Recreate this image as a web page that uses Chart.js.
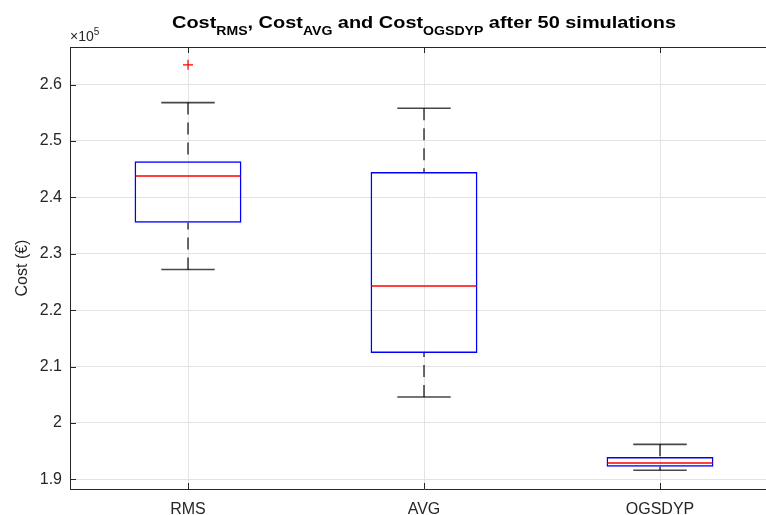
<!DOCTYPE html>
<html>
<head>
<meta charset="utf-8">
<script src="https://cdn.jsdelivr.net/npm/chart.js@4.4.1/dist/chart.umd.min.js"></script>
<style>
    html, body { margin: 0; padding: 0; background: #fff; overflow: hidden; }
    #wrap { width: 800px; height: 515px; }
</style>
</head>
<body>
<div id="wrap"><canvas id="costChart" width="800" height="515"></canvas></div>
<script>
// cost per strategy, in euros
const categories = ["RMS", "AVG", "OGSDYP"];
const upperWhisker = [256800, 255800, 196200];
const q3 = [246400, 244500, 193960];
const medians = [243800, 224300, 192900];
const q1 = [235500, 212400, 192240];
const lowerWhisker = [227200, 204600, 191600];
const outliers = [263500, null, null];

const yTicks = [190000, 200000, 210000, 220000, 230000, 240000, 250000, 260000];

const AXIS_COLOR = "#262626";
const GRID_COLOR = "#e3e3e3";
const FONT = "'Liberation Sans', Arial, sans-serif";

const titleParts = [
    { text: "Cost", sub: false },
    { text: "RMS", sub: true },
    { text: ", Cost", sub: false },
    { text: "AVG", sub: true },
    { text: " and Cost", sub: false },
    { text: "OGSDYP", sub: true },
    { text: " after 50 simulations", sub: false },
];

// whiskers, caps and median lines on top of the box bars
const boxExtras = {
    id: "boxExtras",
    afterDatasetsDraw(chart) {
        const ctx = chart.ctx;
        const x = chart.scales.x;
        const y = chart.scales.y;
        const boxes = chart.getDatasetMeta(0).data;
        ctx.save();
        categories.forEach((cat, i) => {
            const cx = x.getPixelForValue(i);
            const half = boxes[i].width / 2;
            const capHalf = half / 2;
            const up = y.getPixelForValue(upperWhisker[i]);
            const lo = y.getPixelForValue(lowerWhisker[i]);

            ctx.strokeStyle = "rgba(0,0,0,0.72)";
            ctx.lineWidth = 1.6;
            ctx.setLineDash([12, 8]);
            ctx.beginPath();
            ctx.moveTo(cx, up);
            ctx.lineTo(cx, y.getPixelForValue(q3[i]));
            ctx.moveTo(cx, lo);
            ctx.lineTo(cx, y.getPixelForValue(q1[i]));
            ctx.stroke();

            ctx.setLineDash([]);
            ctx.beginPath();
            ctx.moveTo(cx - capHalf, up);
            ctx.lineTo(cx + capHalf, up);
            ctx.moveTo(cx - capHalf, lo);
            ctx.lineTo(cx + capHalf, lo);
            ctx.stroke();

            ctx.strokeStyle = "#ff0000";
            ctx.lineWidth = 1.5;
            const my = y.getPixelForValue(medians[i]);
            ctx.beginPath();
            ctx.moveTo(cx - half + 1, my);
            ctx.lineTo(cx + half - 1, my);
            ctx.stroke();
        });
        ctx.restore();
    },
};

// top border, inward tick marks, title and exponent label
const frame = {
    id: "frame",
    afterDraw(chart) {
        const ctx = chart.ctx;
        const area = chart.chartArea;
        const x = chart.scales.x;
        const y = chart.scales.y;
        ctx.save();
        ctx.strokeStyle = AXIS_COLOR;
        ctx.lineWidth = 1;
        ctx.beginPath();
        ctx.moveTo(area.left, area.top + 0.5);
        ctx.lineTo(area.right, area.top + 0.5);
        yTicks.forEach((v) => {
            const py = Math.round(y.getPixelForValue(v)) + 0.5;
            ctx.moveTo(area.left, py);
            ctx.lineTo(area.left + 6, py);
        });
        categories.forEach((c, i) => {
            const px = Math.round(x.getPixelForValue(i)) + 0.5;
            ctx.moveTo(px, area.bottom);
            ctx.lineTo(px, area.bottom - 6);
            ctx.moveTo(px, area.top);
            ctx.lineTo(px, area.top + 6);
        });
        ctx.stroke();

        // title with subscripts, stretched to the plot's title width
        const mainFont = "bold 17px " + FONT;
        const subFont = "bold 12px " + FONT;
        let total = 0;
        titleParts.forEach((p) => {
            ctx.font = p.sub ? subFont : mainFont;
            p.w = ctx.measureText(p.text).width;
            total += p.w;
        });
        const s = 504 / total;
        const cx = (area.left + area.right) / 2;
        ctx.translate(cx - (total * s) / 2, 0);
        ctx.scale(s, 1);
        ctx.fillStyle = "#000";
        ctx.textBaseline = "alphabetic";
        ctx.textAlign = "left";
        let tx = 0;
        titleParts.forEach((p) => {
            ctx.font = p.sub ? subFont : mainFont;
            ctx.fillText(p.text, tx, p.sub ? 35 : 28);
            tx += p.w;
        });
        ctx.setTransform(1, 0, 0, 1, 0, 0);

        ctx.fillStyle = AXIS_COLOR;
        ctx.font = "14px " + FONT;
        ctx.fillText("\u00d710", area.left, 41);
        const w = ctx.measureText("\u00d710").width;
        ctx.font = "10px " + FONT;
        ctx.fillText("5", area.left + w, 35);
        ctx.restore();
    },
};

new Chart(document.getElementById("costChart"), {
    type: "bar",
    data: {
        labels: categories,
        datasets: [
            {
                label: "box",
                data: categories.map((c, i) => [q1[i], q3[i]]),
                backgroundColor: "rgba(0,0,0,0)",
                borderColor: "#0000ff",
                borderWidth: 1.5,
                borderSkipped: false,
                barPercentage: 0.453,
                categoryPercentage: 1,
            },
            {
                type: "line",
                label: "outliers",
                data: outliers,
                showLine: false,
                pointStyle: "cross",
                pointRadius: 5,
                borderColor: "#ff0000",
                backgroundColor: "#ff0000",
                borderWidth: 1.2,
            },
        ],
    },
    options: {
        responsive: false,
        animation: false,
        layout: { padding: { top: 47, right: 22, left: 0, bottom: 0 } },
        plugins: {
            legend: { display: false },
            tooltip: { enabled: false },
        },
        scales: {
            x: {
                offset: true,
                grid: { offset: false, color: GRID_COLOR, drawTicks: false },
                border: { color: AXIS_COLOR, width: 1 },
                ticks: { color: AXIS_COLOR, font: { family: FONT, size: 16 }, padding: 11 },
                afterFit(scale) { scale.height = 26; },
            },
            y: {
                min: 188280,
                max: 266660,
                grid: { color: GRID_COLOR, drawTicks: false },
                border: { color: AXIS_COLOR, width: 1 },
                afterBuildTicks(scale) {
                    scale.ticks = yTicks.map((v) => ({ value: v }));
                },
                ticks: {
                    color: AXIS_COLOR,
                    padding: 8,
                    font: { family: FONT, size: 16 },
                    callback: (v) => String(Number((v / 1e5).toFixed(2))),
                },
                title: {
                    display: true,
                    text: "Cost (\u20ac)",
                    color: AXIS_COLOR,
                    font: { family: FONT, size: 16 },
                    padding: { top: 13, bottom: 0 },
                },
                afterFit(scale) { scale.width = 70; },
            },
        },
    },
    plugins: [boxExtras, frame],
});
</script>
</body>
</html>
